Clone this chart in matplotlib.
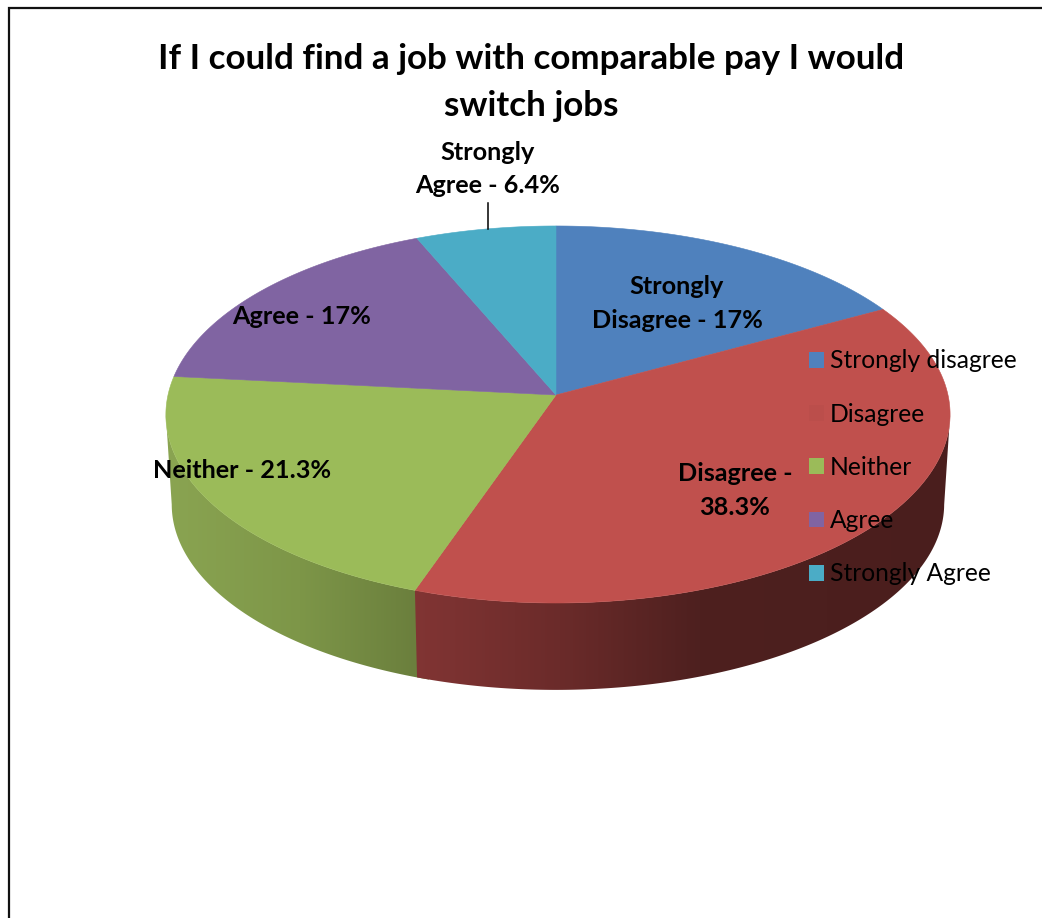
import numpy as np
import matplotlib
matplotlib.use("Agg")
import matplotlib.pyplot as plt
from matplotlib.patches import Polygon, Patch

plt.rcParams['font.family'] = ['Lato', 'DejaVu Sans']

categories = ["Strongly disagree", "Disagree", "Neither", "Agree", "Strongly Agree"]
values = [17.0, 38.3, 21.3, 17.0, 6.4]
title = "If I could find a job with comparable pay I would\nswitch jobs"
slice_labels = ["Strongly\nDisagree - 17%", "Disagree -\n38.3%", "Neither - 21.3%", "Agree - 17%", "Strongly\nAgree - 6.4%"]

colors = ["#4f81bd", "#c0504d", "#9bbb59", "#8064a2", "#4bacc6"]
label_pos = [(677, 303.5), (735, 490.5), (242, 470), (302, 316), (488, 169)]

# pie geometry (pixel space of the reference)
CX, CY, RX, RY, K, DEPTH, SHRINK = 556, 395, 390, 186.5, 0.1034, 90, 0.985

def top(theta):
    w = 1 + K * np.cos(theta)
    return CX + RX * np.sin(theta) / w + 2 * np.sin(theta) ** 2, CY - RY * np.cos(theta) / w

def bottom(theta):
    x, y = top(theta)
    return CX + (x - CX) * SHRINK, CY + (y - CY) * SHRINK + DEPTH

fig = plt.figure(figsize=(10.42, 9.18), dpi=100)
ax = fig.add_axes([0, 0, 1, 1])
ax.set_xlim(0, 1042)
ax.set_ylim(918, 0)
ax.axis("off")

edges = np.concatenate([[0], np.cumsum(values)]) / sum(values) * 2 * np.pi

# outer frame
ax.plot([9, 9, 1042], [918, 7.5, 7.5], color="#111111", lw=1.6, solid_joinstyle="miter", zorder=1)

# side wall shading: (x position, colour)
shades = {
    1: ([410, 560, 700, 955], ["#823534", "#6b2b2a", "#4e201f", "#4a1e1d"]),
    2: ([160, 300, 416, 440], ["#8ba552", "#7d9648", "#6b7f3d", "#6b7f3d"]),
}

# green first, slightly under the red wall, so no seam shows between them
for idx, z in ((2, 2.0), (1, 2.1)):
    lo, hi = edges[idx], edges[idx + 1]
    if idx == 2:
        lo -= 0.03
    t = np.linspace(lo, hi, 400)
    t = t[np.cos(t) <= -K]
    tx, ty = top(t)
    bx, by = bottom(t)
    xs, cs = shades[idx]
    rgb = np.array([matplotlib.colors.to_rgb(c) for c in cs])
    grid = np.linspace(xs[0], xs[-1], 600)
    img = np.stack([np.interp(grid, xs, rgb[:, j]) for j in range(3)], axis=-1)[None, :, :]
    wall = Polygon(np.column_stack([np.r_[tx, bx[::-1]], np.r_[ty, by[::-1]]]), closed=True,
                   transform=ax.transData, facecolor="none", edgecolor="none")
    ax.add_patch(wall)
    im = ax.imshow(img, extent=(xs[0], xs[-1], 720, 380), aspect="auto", zorder=z,
                   interpolation="bilinear")
    im.set_clip_path(wall)
ax.set_xlim(0, 1042)
ax.set_ylim(918, 0)

# top faces
for i, c in enumerate(colors):
    t = np.linspace(edges[i], edges[i + 1], 200)
    x, y = top(t)
    pts = np.column_stack([np.r_[CX, x], np.r_[CY, y]])
    ax.add_patch(Polygon(pts, closed=True, facecolor=c, edgecolor=c, lw=0.4, zorder=3))

# leader line for the outside label
mid = (edges[4] + edges[5]) / 2
ax.plot([487.5, 487.5], [203, top(mid)[1]], color="black", lw=1.1, zorder=4)

for lab, (x, y) in zip(slice_labels, label_pos):
    ax.text(x, y, lab, ha="center", va="center", fontsize=18.2, fontweight="bold",
            color="black", linespacing=1.55, zorder=6)

ax.text(531, 82.5, title, ha="center", va="center", fontsize=25.2, fontweight="bold",
        color="black", linespacing=1.585, zorder=6)

handle_colors = ["#4f81bd", "#bb4e4b", "#9bbb59", "#8064a2", "#4bacc6"]
handles = [Patch(facecolor=c, edgecolor="none") for c in handle_colors]
leg = ax.legend(handles, categories, loc="upper left", bbox_to_anchor=(809, 349.5),
                bbox_transform=ax.transData, frameon=False, fontsize=17.7,
                borderpad=0, borderaxespad=0, handlelength=0.61, handleheight=0.61,
                handletextpad=0.24, labelspacing=1.23)
leg.set_zorder(7)

fig.savefig("out.png", dpi=100)
